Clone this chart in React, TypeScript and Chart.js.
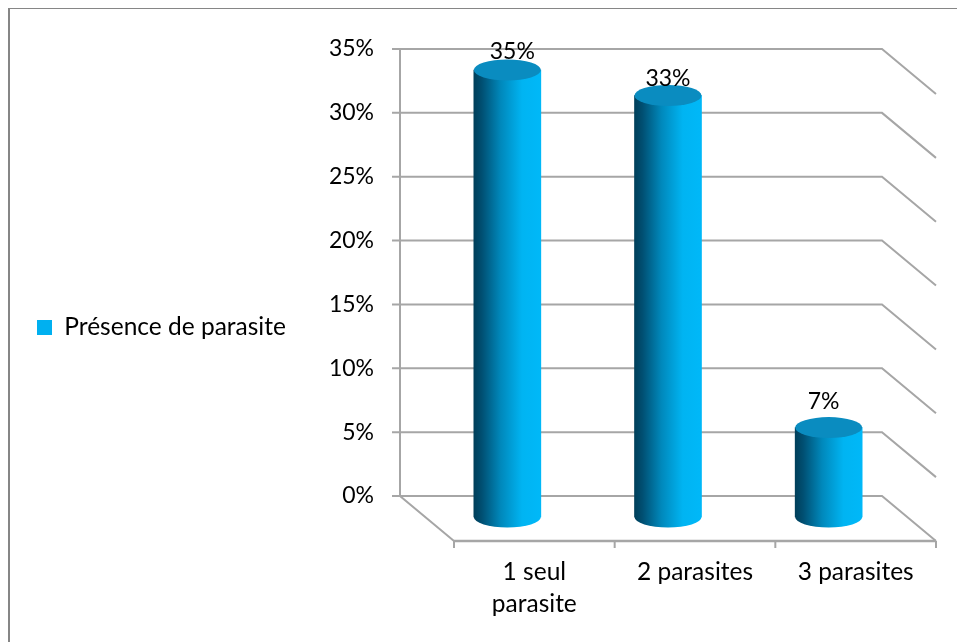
import React, { useEffect, useRef } from "react";
import { Chart, registerables } from "chart.js";

Chart.register(...registerables);

const categories = [["1 seul", "parasite"], "2 parasites", "3 parasites"];
const seriesName = "Présence de parasite";
const presence = [35, 33, 7];
const yTicksMax = 35;
const yTickStep = 5;

const FONT = "Lato";
const TEXT_SIZE = 24.5;
const NUM_SIZE = 23;
const DEPTH_X = 54;
const DEPTH_Y = 45;
const BAR_SHIFT_X = -27;
const BAR_SHIFT_Y = 21;
const BAR_W = 67;
const RY = 10.5;
const WALL = "#a6a6a6";
const labelOffsets: [number, number][] = [[5, -18], [0, -17], [-5, -26]];

function makeGradient(ctx: CanvasRenderingContext2D, cx: number) {
  const g = ctx.createLinearGradient(cx - BAR_W / 2, 0, cx + BAR_W / 2, 0);
  g.addColorStop(0, "#003f5a");
  g.addColorStop(0.12, "#004f72");
  g.addColorStop(0.4, "#0088bb");
  g.addColorStop(0.72, "#00b4f2");
  g.addColorStop(1, "#00b8f8");
  return g;
}

const cylinderPlugin = {
  id: "cylinder",
  afterLayout(chart: any) {
    const l = chart.legend;
    l.left -= 2;
    l.right += 70;
    l.top -= 18;
    l.bottom -= 18;
  },
  beforeDraw(chart: any) {
    const { ctx, width, height } = chart;
    ctx.save();
    ctx.strokeStyle = "#868686";
    ctx.lineWidth = 2;
    ctx.beginPath();
    ctx.moveTo(width + 2, 0);
    ctx.lineTo(1, 0);
    ctx.lineTo(1, height + 2);
    ctx.stroke();
    ctx.restore();
  },
  beforeDatasetsDraw(chart: any) {
    const { ctx, chartArea: a, scales } = chart;
    const y = scales.y;
    ctx.save();
    ctx.strokeStyle = WALL;
    ctx.lineWidth = 2;
    const backL = a.left - DEPTH_X;
    const backR = a.right - DEPTH_X;
    for (let v = 0; v <= yTicksMax; v += yTickStep) {
      const py = y.getPixelForValue(v);
      ctx.beginPath();
      ctx.moveTo(backL - 8, py);
      ctx.lineTo(backR, py);
      ctx.lineTo(a.right, py + DEPTH_Y);
      ctx.stroke();
    }
    ctx.beginPath();
    ctx.moveTo(backL, y.getPixelForValue(yTicksMax));
    ctx.lineTo(backL, y.getPixelForValue(0));
    ctx.lineTo(a.left, y.getPixelForValue(0) + DEPTH_Y);
    ctx.stroke();
    const floorY = y.getPixelForValue(0) + DEPTH_Y;
    ctx.lineWidth = 2.6;
    ctx.beginPath();
    ctx.moveTo(a.left, floorY);
    ctx.lineTo(a.right, floorY);
    ctx.stroke();
    ctx.lineWidth = 2;
    const step = (a.right - a.left) / categories.length;
    for (let i = 0; i <= categories.length; i++) {
      const px = a.left + i * step;
      ctx.beginPath();
      ctx.moveTo(px, floorY);
      ctx.lineTo(px, floorY + 7);
      ctx.stroke();
    }
    ctx.restore();
    ctx.save();
    ctx.translate(BAR_SHIFT_X, BAR_SHIFT_Y);
  },
  afterDatasetsDraw(chart: any) {
    const { ctx } = chart;
    const meta = chart.getDatasetMeta(0);
    meta.data.forEach((bar: any) => {
      const rx = BAR_W / 2;
      ctx.fillStyle = makeGradient(ctx, bar.x);
      ctx.beginPath();
      ctx.ellipse(bar.x, bar.base, rx, RY, 0, 0, Math.PI);
      ctx.fill();
      ctx.fillStyle = "#0a8cc0";
      ctx.beginPath();
      ctx.ellipse(bar.x, bar.y, rx, RY, 0, 0, Math.PI * 2);
      ctx.fill();
    });
    ctx.fillStyle = "#000";
    ctx.font = `${NUM_SIZE}px ${FONT}`;
    ctx.textAlign = "center";
    ctx.textBaseline = "middle";
    meta.data.forEach((bar: any, i: number) => {
      const [ox, oy] = labelOffsets[i];
      ctx.fillText(`${presence[i]}%`, bar.x + ox, bar.y + oy);
    });
    ctx.restore();
  },
};

export default function App() {
  const ref = useRef<HTMLCanvasElement>(null);
  useEffect(() => {
    const chart = new Chart(ref.current as HTMLCanvasElement, {
      type: "bar",
      data: {
        labels: categories as any,
        datasets: [
          {
            label: seriesName,
            data: presence,
            barThickness: BAR_W,
            clip: false as any,
            borderWidth: 0,
            backgroundColor: (c: any) =>
              c.type === "data" && c.chart.scales.x
                ? makeGradient(c.chart.ctx, c.chart.scales.x.getPixelForValue(c.dataIndex))
                : "#00b0f0",
          },
        ],
      },
      options: {
        responsive: false,
        animation: false,
        layout: { padding: { left: 21, right: 21, top: 41, bottom: 0 } },
        plugins: {
          tooltip: { enabled: false },
          legend: {
            position: "left",
            labels: {
              boxWidth: 15,
              boxHeight: 15,
              color: "#000",
              font: { family: FONT, size: TEXT_SIZE },
              generateLabels: () => [
                { text: seriesName, fillStyle: "#00b0f0", strokeStyle: "#00b0f0", lineWidth: 0, datasetIndex: 0 },
              ],
            },
          },
        },
        scales: {
          x: {
            grid: { display: false, drawTicks: false },
            border: { display: false },
            afterFit: (s: any) => {
              s.height = 146;
              s.paddingLeft = 0;
              s.paddingRight = 0;
            },
            ticks: {
              autoSkip: false,
              maxRotation: 0,
              minRotation: 0,
              padding: 60,
              color: "#000",
              font: { family: FONT, size: TEXT_SIZE, lineHeight: 1.3 },
            },
          },
          y: {
            min: 0,
            max: yTicksMax,
            grid: { display: false, drawTicks: false },
            border: { display: false },
            afterFit: (s: any) => {
              s.width = 446 - 21 - s.chart.legend.width;
              s.paddingTop = 0;
              s.paddingBottom = 0;
            },
            ticks: {
              stepSize: yTickStep,
              padding: 80,
              color: "#000",
              font: { family: FONT, size: NUM_SIZE },
              callback: (v: any) => `${v}%`,
            },
          },
        },
      },
      plugins: [cylinderPlugin as any],
    });
    return () => chart.destroy();
  }, []);
  return (
    <canvas
      ref={ref}
      width={949}
      height={634}
      style={{ display: "block", position: "absolute", left: 8, top: 8 }}
    />
  );
}
